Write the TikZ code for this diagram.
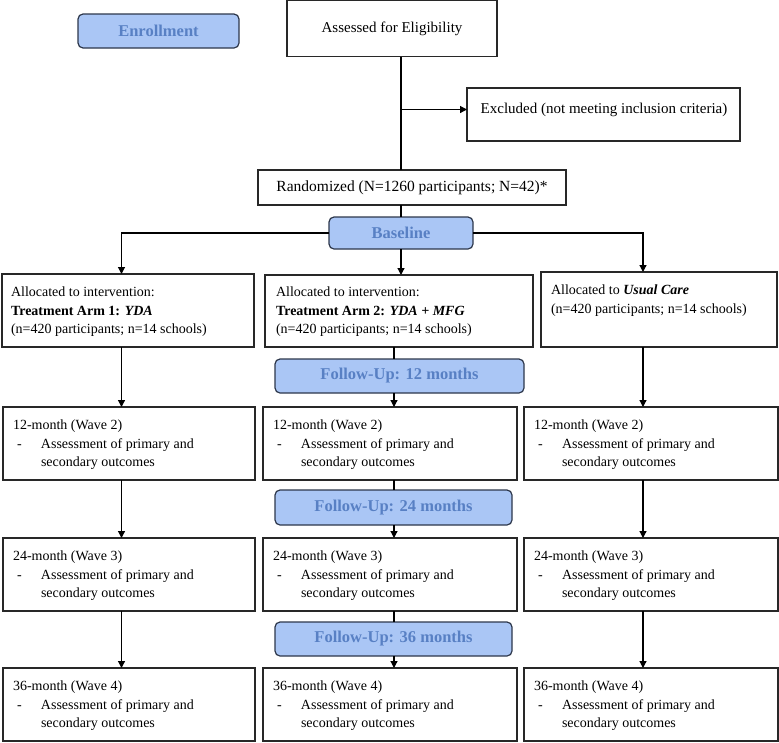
\documentclass[tikz,border=0pt]{standalone}
\usepackage{fontspec}
\setmainfont{Liberation Serif}
\usetikzlibrary{arrows.meta,calc}
\definecolor{fuFill}{RGB}{170,198,245}
\definecolor{fuText}{RGB}{88,128,196}
\definecolor{fuLine}{RGB}{45,55,75}
\definecolor{boxLine}{RGB}{40,40,40}
\begin{document}
\begin{tikzpicture}[x=1pt,y=-1pt,
  every node/.style={inner sep=0pt,outer sep=0pt},
  box/.style={draw=boxLine,line width=1.2pt,anchor=north west},
  phase/.style={draw=fuLine,line width=1.2pt,fill=fuFill,rounded corners=5pt,
    anchor=north west,text=fuText,font=\fontsize{16.5}{18}\selectfont\bfseries},
  txt/.style={anchor=north west,align=left,font=\fontsize{14}{18.5}\selectfont},
  conn/.style={draw=black,line width=1.2pt},
  arr/.style={conn,-{Triangle[length=7pt,width=7pt]}}]
\useasboundingbox (0,0) rectangle (779,742);
% coordinates for the connector columns
\coordinate (xTop) at (401,0);
\coordinate (xL) at (121.5,0);
\coordinate (xM) at (394,0);
\coordinate (xR) at (643,0);
\coordinate (exY) at (0,109.5);
% top part
\node[phase,minimum width=161pt,minimum height=34pt] (enrol) at (78,14) {Enrollment};
\node[box,minimum width=210pt,minimum height=56pt,font=\fontsize{15}{18}\selectfont] (assess) at (287,0.7) {Assessed for Eligibility};
\node[box,minimum width=273pt,minimum height=53pt] (excl) at (467,88) {};
\node[anchor=base,font=\fontsize{15}{18}\selectfont] (exclt) at (604,113) {Excluded (not meeting inclusion criteria)};
\node[box,minimum width=308pt,minimum height=35pt,font=\fontsize{15.5}{18}\selectfont] (rand) at (258,170) {Randomized (N=1260 participants; N=42)*};
\node[phase,minimum width=144pt,minimum height=32pt] (base) at (329,217) {Baseline};
% allocation row
\node[box,minimum width=252pt,minimum height=73pt] (a1) at (2,274) {};
\node[txt] (a1t) at ($(a1.north west)+(9,13)$) {Allocated to intervention:\\\textbf{Treatment Arm 1: \textit{YDA}}\\(n=420 participants; n=14 schools)};
\node[box,minimum width=268pt,minimum height=72pt] (a2) at (265,275) {};
\node[txt] (a2t) at ($(a2.north west)+(11,12)$) {Allocated to intervention:\\\textbf{Treatment Arm 2: \textit{YDA + MFG}}\\(n=420 participants; n=14 schools)};
\node[box,minimum width=236pt,minimum height=75pt] (a3) at (541,272) {};
\node[txt] (a3t) at ($(a3.north west)+(10,13)$) {Allocated to \textbf{\textit{Usual Care}}\\(n=420 participants; n=14 schools)};
% follow-up phases
\node[phase,minimum width=249pt,minimum height=34pt] (fu12) at (275,359) {Follow-Up: 12 months};
\node[phase,minimum width=237pt,minimum height=35pt] (fu24) at (275,490) {Follow-Up: 24 months};
\node[phase,minimum width=237pt,minimum height=34pt] (fu36) at (275,622) {Follow-Up: 36 months};
% wave rows
\foreach \r/\y/\m/\w in {2/407/12/2,3/538/24/3,4/668/36/4}{
  \node[box,minimum width=252pt,minimum height=73pt] (l\r) at (3,\y) {};
  \node[box,minimum width=254pt,minimum height=73pt] (m\r) at (263,\y) {};
  \node[box,minimum width=254pt,minimum height=73pt] (r\r) at (524,\y) {};
  \foreach \c in {l,m,r}{
    \node[txt] (\c\r t) at ($(\c\r.north west)+(10,13)$) {\m-month (Wave \w)\\\makebox[28pt][l]{\hspace*{4pt}-}Assessment of primary and\\\hspace*{28pt}secondary outcomes};
  }
}
% connectors
\draw[conn] (assess.south -| xTop) -- (rand.north -| xTop);
\draw[arr] (xTop |- exY) -- (excl.west |- exY);
\draw[conn] (rand.south -| xTop) -- (base.north -| xTop);
\draw[arr] (base.west) -| (a1.north -| xL);
\draw[arr] (base.south -| xTop) -- (a2.north -| xTop);
\draw[arr] (base.east) -| (a3.north -| xR);
% left column
\draw[arr] (a1.south -| xL) -- (l2.north -| xL);
\draw[arr] (l2.south -| xL) -- (l3.north -| xL);
\draw[arr] (l3.south -| xL) -- (l4.north -| xL);
% right column
\draw[arr] (a3.south -| xR) -- (r2.north -| xR);
\draw[arr] (r2.south -| xR) -- (r3.north -| xR);
\draw[arr] (r3.south -| xR) -- (r4.north -| xR);
% middle column
\draw[conn] (a2.south -| xM) -- (fu12.north -| xM);
\draw[arr] (fu12.south -| xM) -- (m2.north -| xM);
\draw[conn] (m2.south -| xM) -- (fu24.north -| xM);
\draw[arr] (fu24.south -| xM) -- (m3.north -| xM);
\draw[conn] (m3.south -| xM) -- (fu36.north -| xM);
\draw[arr] (fu36.south -| xM) -- (m4.north -| xM);
\end{tikzpicture}
\end{document}
